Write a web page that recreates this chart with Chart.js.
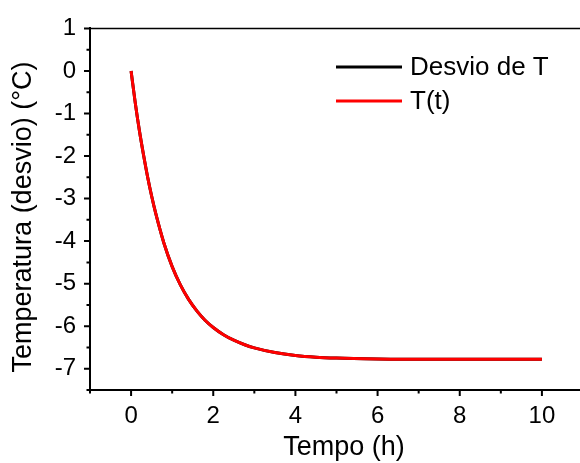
<!DOCTYPE html>
<html>
<head>
<meta charset="utf-8">
<script src="https://cdn.jsdelivr.net/npm/chart.js@4"></script>
<style>
  html, body { margin: 0; padding: 0; background: #fff; overflow: hidden; }
  #wrap { width: 583px; height: 463px; }
</style>
</head>
<body>
<div id="wrap"><canvas id="chart" width="583" height="463"></canvas></div>
<script>
'use strict';

// values
const TIME = [0, 0.1, 0.2, 0.3, 0.4, 0.5, 0.6, 0.8, 1.0, 1.2, 1.4, 1.6, 1.8, 2.0, 2.25, 2.5, 2.75, 3.0, 3.5, 4.0, 4.5, 5.0, 6.0, 7.0, 8.0, 9.0, 10.0];
const DESVIO = [0, -0.74, -1.39, -1.96, -2.48, -2.94, -3.35, -4.05, -4.60, -5.03, -5.37, -5.64, -5.86, -6.03, -6.20, -6.33, -6.43, -6.51, -6.62, -6.69, -6.73, -6.75, -6.77, -6.78, -6.78, -6.78, -6.78];
const T_FIT = [0, -0.74, -1.39, -1.96, -2.48, -2.94, -3.35, -4.05, -4.60, -5.03, -5.37, -5.64, -5.86, -6.03, -6.20, -6.33, -6.43, -6.51, -6.62, -6.69, -6.73, -6.75, -6.77, -6.78, -6.78, -6.78, -6.78];

const X_TICKS = [0, 2, 4, 6, 8, 10];
const X_MINOR = [-1, 1, 3, 5, 7, 9, 11];
const Y_TICKS = [-7, -6, -5, -4, -3, -2, -1, 0, 1];
const Y_MINOR = [-7.5, -6.5, -5.5, -4.5, -3.5, -2.5, -1.5, -0.5, 0.5];

const LEGEND = ['Desvio de T', 'T(t)'];
const COLORS = ['#000000', '#ff0000'];

const FONT = '"Liberation Sans", Arial, sans-serif';

const pts = ys => TIME.map((t, i) => ({ x: t, y: ys[i] }));

// axis ticks, top frame line, titles, legend
const decor = {
  id: 'decor',
  afterDraw(chart) {
    const { ctx, chartArea: a, scales: { x, y } } = chart;
    ctx.save();
    ctx.strokeStyle = '#000';
    ctx.lineWidth = 2;
    ctx.beginPath();
    X_TICKS.forEach(v => { const p = x.getPixelForValue(v); ctx.moveTo(p, a.bottom); ctx.lineTo(p, a.bottom + 6); });
    X_MINOR.forEach(v => { const p = x.getPixelForValue(v); ctx.moveTo(p, a.bottom); ctx.lineTo(p, a.bottom + 3.5); });
    Y_TICKS.forEach(v => { const p = y.getPixelForValue(v); ctx.moveTo(a.left, p); ctx.lineTo(a.left - 6, p); });
    Y_MINOR.forEach(v => { const p = y.getPixelForValue(v); ctx.moveTo(a.left, p); ctx.lineTo(a.left - 3.5, p); });
    ctx.stroke();

    ctx.lineWidth = 1.5;
    ctx.beginPath();
    ctx.moveTo(a.left, a.top);
    ctx.lineTo(a.right, a.top);
    ctx.stroke();

    ctx.fillStyle = '#000';
    ctx.font = `27px ${FONT}`;
    ctx.textAlign = 'center';
    ctx.textBaseline = 'middle';
    ctx.fillText('Tempo (h)', 344, 448);
    ctx.translate(24, 217);
    ctx.rotate(-Math.PI / 2);
    ctx.fillText('Temperatura (desvio) (°C)', 0, 0);
    ctx.setTransform(1, 0, 0, 1, 0, 0);

    ctx.font = `26px ${FONT}`;
    ctx.textAlign = 'left';
    LEGEND.forEach((label, i) => {
      const ly = 67 + i * 34;
      ctx.strokeStyle = COLORS[i];
      ctx.lineWidth = 3;
      ctx.beginPath();
      ctx.moveTo(336, ly);
      ctx.lineTo(402, ly);
      ctx.stroke();
      ctx.fillText(label, 410, ly + 1);
    });
    ctx.restore();
  }
};

new Chart(document.getElementById('chart'), {
  type: 'line',
  data: {
    datasets: [
      { label: LEGEND[0], data: pts(DESVIO), borderColor: COLORS[0], borderWidth: 3, pointRadius: 0, cubicInterpolationMode: 'monotone', order: 2 },
      { label: LEGEND[1], data: pts(T_FIT), borderColor: COLORS[1], borderWidth: 3, pointRadius: 0, cubicInterpolationMode: 'monotone', order: 1 }
    ]
  },
  options: {
    responsive: false,
    animation: false,
    layout: { padding: { top: 23, right: 0, left: 0, bottom: 0 } },
    plugins: { legend: { display: false }, tooltip: { enabled: false } },
    scales: {
      x: {
        type: 'linear',
        min: -1,
        max: 11,
        afterBuildTicks: s => { s.ticks = X_TICKS.map(v => ({ value: v })); },
        afterFit: s => { s.height = 73; },
        grid: { display: false, drawTicks: false },
        border: { display: true, color: '#000', width: 2 },
        ticks: { color: '#000', font: { family: FONT, size: 24 }, padding: 12, maxRotation: 0 }
      },
      y: {
        min: -7.5,
        max: 1,
        afterBuildTicks: s => { s.ticks = Y_TICKS.map(v => ({ value: v })); },
        afterFit: s => { s.width = 90; },
        grid: { display: false, drawTicks: false },
        border: { display: true, color: '#000', width: 2 },
        ticks: { color: '#000', font: { family: FONT, size: 24 }, padding: 14 }
      }
    }
  },
  plugins: [decor]
});
</script>
</body>
</html>
